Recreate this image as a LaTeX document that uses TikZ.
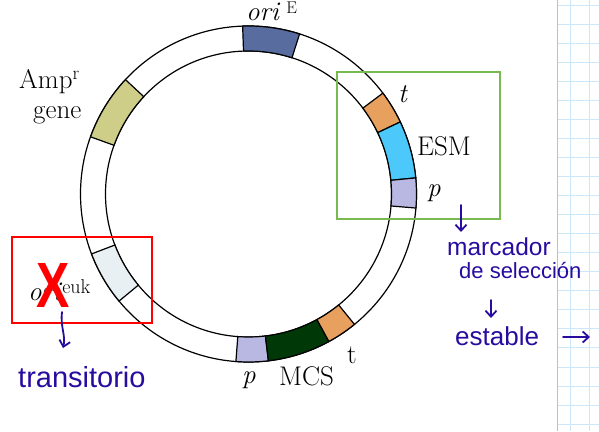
\documentclass[tikz,border=0pt]{standalone}
\usepackage{fontspec}
\newfontfamily\handfont{Liberation Sans}
\newfontfamily\crossfont{Liberation Sans}
\usetikzlibrary{arrows.meta}
\definecolor{oriEc}{RGB}{88,108,160}
\definecolor{ampc}{RGB}{206,206,136}
\definecolor{orngc}{RGB}{232,160,94}
\definecolor{esmc}{RGB}{76,200,250}
\definecolor{lavc}{RGB}{184,184,226}
\definecolor{mcsc}{RGB}{0,56,8}
\definecolor{eukc}{RGB}{232,240,244}
\definecolor{inkc}{RGB}{40,12,160}
\definecolor{boxgc}{RGB}{120,186,80}
\definecolor{gridc}{RGB}{204,230,250}
\newcommand{\plasmidseg}[3]{%
  \draw[segline, fill=#1] (#2:143pt) -- (#2:168pt)
    arc[start angle=#2, end angle=#3, radius=168pt] -- (#3:143pt)
    arc[start angle=#3, end angle=#2, radius=143pt] -- cycle;}
\tikzset{
  segline/.style={draw=black, line width=1.2pt},
  lab/.style={font=\fontsize{27}{32}\selectfont, inner sep=0pt, anchor=base west},
  hand/.style={text=inkc, inner sep=0pt, anchor=base west},
  handarrow/.style={draw=inkc, line width=1.8pt, line cap=round, -{Straight Barb[length=6pt,width=11pt,line width=1.8pt]}},
  markbox/.style={line width=1.6pt, inner sep=0pt, fill=none}
}
\begin{document}
\begin{tikzpicture}[x=1pt,y=1pt]
\useasboundingbox (0,0) rectangle (599,431);
\fill[white] (0,0) rectangle (599,431);
% grid paper
\begin{scope}
  \clip (558,0) rectangle (599,431);
  \foreach \k in {0,...,22} {
    \draw[gridc, line width=0.9pt] (558,426-19.05*\k) -- (599,426-19.05*\k);
  }
  \draw[gridc, line width=0.9pt] (570.3,0) -- (570.3,431);
  \draw[gridc, line width=0.9pt] (589.5,0) -- (589.5,431);
\end{scope}
\draw[black!25, line width=1.8pt] (557.5,0) -- (557.5,431);
% plasmid ring
\begin{scope}[shift={(248.5,237)}]
  \draw[segline] (0,0) circle[radius=168pt];
  \draw[segline] (0,0) circle[radius=143pt];
  \plasmidseg{oriEc}{72.3}{92}
  \plasmidseg{ampc}{137.1}{160.1}
  \plasmidseg{eukc}{200.9}{219.6}
  \plasmidseg{lavc}{265.7}{276.8}
  \plasmidseg{mcsc}{276.8}{298.6}
  \plasmidseg{orngc}{298.6}{309.1}
  \plasmidseg{orngc}{25.4}{36.9}
  \plasmidseg{esmc}{5.5}{25.4}
  \plasmidseg{lavc}{-4.8}{5.5}
\end{scope}
% labels
\node[lab] (oriE) at (246,410.5) {\textit{ori}\hspace{6pt}\raisebox{6.5pt}{\fontsize{17}{17}\selectfont E}};
\node[lab] (amp) at (19,342) {Amp\textsuperscript{r}};
\node[lab] (gene) at (33,312) {gene};
\node[lab] (tr) at (398,328) {\textit{t}};
\node[lab] (esm) at (417,275) {ESM};
\node[lab] (pr) at (427,234) {\textit{p}};
\node[lab] (pb) at (242,48) {\textit{p}};
\node[lab] (mcs) at (279,46) {MCS};
\node[lab] (tb) at (347,68) {t};
\node[lab] (orieuk) at (28,130) {\textit{ori}\raisebox{7pt}{\fontsize{20}{24}\selectfont euk}};
% boxes
\node[markbox, draw=boxgc, minimum width=163pt, minimum height=147pt, anchor=north west] (gbox) at (336,360) {};
\node[markbox, draw=red, minimum width=140pt, minimum height=86pt, anchor=north west] (rbox) at (11,195) {};
% red cross
\node[text=red, inner sep=0pt, font=\crossfont\bfseries\fontsize{64}{64}\selectfont, xscale=0.78] (cross) at (53,146) {X};
% handwriting
\node[hand, font=\handfont\fontsize{24.5}{28}\selectfont] (marc) at (447,175) {marcador};
\node[hand, font=\handfont\fontsize{22}{26}\selectfont] (desel) at (459,152) {de selección};
\node[hand, font=\handfont\fontsize{26}{30}\selectfont] (estab) at (455,86) {estable};
\node[hand, font=\handfont\fontsize{29}{32}\selectfont] (trans) at (18,44) {transitorio};
\coordinate (g1) at (461,226);
\coordinate (g2) at (461,199);
\coordinate (s1) at (491,131);
\coordinate (s2) at (491,113);
\coordinate (e1) at (563,94);
\coordinate (e2) at (590,94);
\coordinate (r1) at (62,119);
\coordinate (r2) at (63,83);
\draw[handarrow] (g1) -- (g2);
\draw[handarrow] (s1) -- (s2);
\draw[handarrow] (e1) -- (e2);
\draw[handarrow] (r1) .. controls (60,105) and (66,95) .. (r2);
\end{tikzpicture}
\end{document}
